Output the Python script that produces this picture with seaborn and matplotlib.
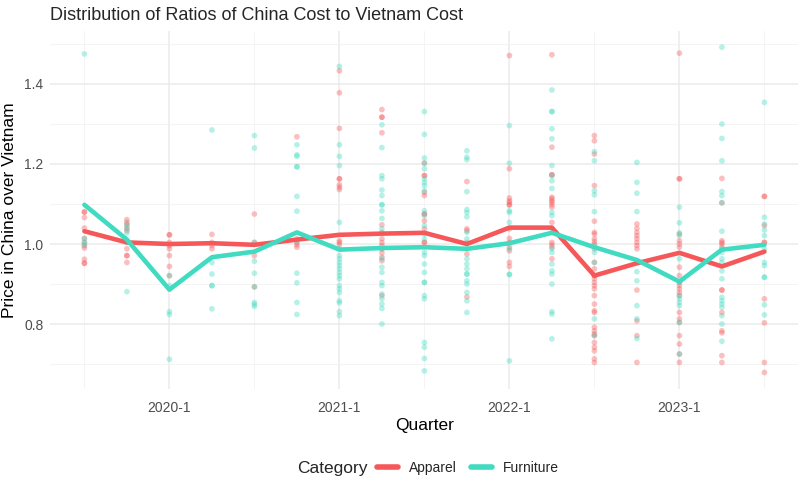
import numpy as np
import pandas as pd
import seaborn as sns
import matplotlib.pyplot as plt
from matplotlib.lines import Line2D

# Quarters on the x axis
quarters = ['2019-3', '2019-4', '2020-1', '2020-2', '2020-3', '2020-4', '2021-1', '2021-2', '2021-3',
            '2021-4', '2022-1', '2022-2', '2022-3', '2022-4', '2023-1', '2023-2', '2023-3']

# Individual ratios per quarter
apparel_pts = [
    [1.080, 1.080, 1.066, 1.040, 1.014, 1.004, 0.996, 0.990, 0.962, 0.952, 0.952],
    [1.061, 1.054, 1.048, 1.040, 1.033, 0.988, 0.971, 0.971, 0.954],
    [1.023, 1.023, 1.004, 0.996, 0.988, 0.971, 0.944, 0.921],
    [1.024, 1.004, 0.996, 0.988],
    [1.075, 1.004, 0.971, 0.893],
    [1.268, 1.013, 1.004, 0.998, 0.992],
    [1.433, 1.378, 1.289, 1.163, 1.163, 1.148, 1.142, 1.136, 1.008, 1.004, 0.998],
    [1.336, 1.317, 1.317, 1.278, 1.048, 1.029, 1.013, 1.004, 0.996, 0.988, 0.978, 0.967, 0.958, 0.871],
    [1.202, 1.171, 1.171, 1.129, 1.121, 1.075, 1.075, 1.058, 1.038, 1.004, 1.004],
    [1.156, 1.038, 1.033, 1.004, 0.975, 0.868],
    [1.471, 1.188, 1.115, 1.108, 1.104, 1.098, 1.098, 1.038, 1.014, 1.004, 0.992, 0.983, 0.954, 0.944],
    [1.473, 1.242, 1.173, 1.173, 1.117, 1.113, 1.108, 1.104, 1.098, 1.092, 1.054, 1.004, 0.998, 0.992, 0.963],
    [1.271, 1.258, 1.225, 1.146, 1.057, 1.029, 1.025, 1.013, 1.006, 1.000, 0.988, 0.954, 0.938, 0.921, 0.921,
     0.913, 0.904, 0.896, 0.888, 0.871, 0.850, 0.833, 0.829, 0.792, 0.783, 0.775, 0.771, 0.754, 0.742, 0.733,
     0.713, 0.704],
    [1.050, 1.039, 1.029, 1.021, 1.013, 1.004, 0.996, 0.988, 0.954, 0.885, 0.808, 0.771, 0.704],
    [1.477, 1.163, 1.163, 1.025, 1.008, 1.000, 0.992, 0.942, 0.921, 0.904, 0.896, 0.888, 0.879, 0.871, 0.829,
     0.813, 0.804, 0.771, 0.750, 0.725, 0.704],
    [1.164, 1.103, 1.008, 1.004, 1.000, 0.992, 0.885, 0.885, 0.829, 0.783, 0.778, 0.721, 0.704],
    [1.119, 1.119, 1.046, 1.004, 1.004, 0.863, 0.803, 0.704, 0.679],
]

furniture_pts = [
    [1.475, 1.014, 1.004, 0.998],
    [1.048, 1.038, 1.028, 1.004, 0.881],
    [0.921, 0.896, 0.831, 0.824, 0.712],
    [1.285, 0.954, 0.925, 0.896, 0.896, 0.838],
    [1.271, 1.240, 1.004, 0.957, 0.927, 0.893, 0.854, 0.849, 0.844],
    [1.248, 1.223, 1.219, 1.193, 1.193, 1.119, 1.082, 1.008, 0.927, 0.903, 0.854, 0.824],
    [1.444, 1.248, 1.219, 1.196, 1.054, 0.988, 0.971, 0.963, 0.954, 0.946, 0.938, 0.929, 0.921, 0.913, 0.896,
     0.888, 0.879, 0.858, 0.853, 0.831, 0.821],
    [1.298, 1.241, 1.171, 1.163, 1.135, 1.121, 1.098, 1.098, 1.083, 1.064, 1.038, 0.988, 0.963, 0.942, 0.929,
     0.904, 0.896, 0.875, 0.863, 0.850, 0.839, 0.800],
    [1.331, 1.274, 1.215, 1.202, 1.188, 1.163, 1.154, 1.146, 1.133, 1.083, 1.071, 1.046, 1.025, 1.013, 0.979,
     0.971, 0.950, 0.929, 0.904, 0.904, 0.871, 0.863, 0.754, 0.742, 0.714, 0.683],
    [1.233, 1.217, 1.211, 1.131, 1.086, 1.079, 1.068, 1.029, 1.013, 0.988, 0.963, 0.950, 0.938, 0.925, 0.925,
     0.908, 0.900, 0.879, 0.858, 0.829],
    [1.296, 1.202, 1.083, 1.079, 1.054, 0.988, 0.924, 0.924, 0.708],
    [1.385, 1.331, 1.331, 1.288, 1.263, 1.196, 1.171, 1.158, 1.139, 1.079, 1.071, 1.038, 0.988, 0.979, 0.950,
     0.933, 0.925, 0.900, 0.831, 0.825, 0.763],
    [1.231, 1.208, 1.133, 1.123, 1.081, 0.996, 0.979, 0.954, 0.813, 0.771],
    [1.204, 1.154, 1.127, 1.081, 0.958, 0.931, 0.908, 0.846, 0.813, 0.764],
    [1.092, 1.053, 1.028, 1.021, 0.963, 0.904, 0.871, 0.863, 0.854, 0.846, 0.804, 0.725],
    [1.492, 1.300, 1.264, 1.208, 1.131, 1.121, 1.103, 1.032, 0.988, 0.979, 0.963, 0.954, 0.933, 0.913, 0.867,
     0.858, 0.850, 0.842, 0.821, 0.800, 0.757],
    [1.354, 1.067, 1.050, 1.035, 1.021, 0.988, 0.954, 0.946, 0.917, 0.917, 0.848, 0.823],
]

# Average line per category
apparel_mean = [1.032, 1.004, 1.000, 1.002, 0.998, 1.011, 1.023, 1.026, 1.028, 1.000, 1.041, 1.041,
                0.921, 0.952, 0.978, 0.944, 0.981]
furniture_mean = [1.098, 1.011, 0.886, 0.967, 0.981, 1.029, 0.986, 0.990, 0.992, 0.988, 1.002, 1.028,
                  0.992, 0.960, 0.906, 0.986, 0.998]

categories = ['Apparel', 'Furniture']
palette = {'Apparel': '#F6585A', 'Furniture': '#40DBC0'}

rows = []
for cat, pts in zip(categories, [apparel_pts, furniture_pts]):
    for i, vals in enumerate(pts):
        for v in vals:
            rows.append((i, v, cat))
points = pd.DataFrame(rows, columns=['pos', 'ratio', 'Category'])

means = pd.DataFrame({
    'pos': list(range(len(quarters))) * 2,
    'ratio': apparel_mean + furniture_mean,
    'Category': ['Apparel'] * len(quarters) + ['Furniture'] * len(quarters),
})

sns.set_theme(style='white')
plt.rcParams['font.family'] = ['Liberation Sans', 'DejaVu Sans']

fig, ax = plt.subplots(figsize=(8, 4.96), dpi=100)
fig.subplots_adjust(left=0.063, right=0.998, top=0.938, bottom=0.216)

sns.scatterplot(data=points, x='pos', y='ratio', hue='Category', hue_order=categories, palette=palette,
                s=17, alpha=0.38, edgecolor='none', legend=False, ax=ax, zorder=2)
sns.lineplot(data=means, x='pos', y='ratio', hue='Category', hue_order=categories, palette=palette,
             linewidth=3.3, legend=False, ax=ax, zorder=3)

major_x = [i for i, q in enumerate(quarters) if q.endswith('-1')]
minor_x = [i for i, q in enumerate(quarters) if q.endswith('-3')]
ax.set_xticks(major_x)
ax.set_xticklabels([quarters[i] for i in major_x])
ax.set_xticks(minor_x, minor=True)
ax.set_yticks([0.8, 1.0, 1.2, 1.4])
ax.set_yticklabels(['0.8', '1.0', '1.2', '1.4'])
ax.set_yticks([0.7, 0.9, 1.1, 1.3, 1.5], minor=True)
ax.set_xlim(-0.8, 16.8)
ax.set_ylim(0.638, 1.533)

ax.grid(which='major', color='#EBEBEB', linewidth=1.1, zorder=0)
ax.grid(which='minor', color='#F2F2F2', linewidth=0.6, zorder=0)
ax.set_axisbelow(True)
for s in ax.spines.values():
    s.set_visible(False)
ax.tick_params(which='both', length=0, labelsize=10, labelcolor='#4D4D4D')
ax.tick_params(axis='x', pad=9)
ax.tick_params(axis='y', pad=5)

ax.set_xlabel('Quarter', fontsize=12.5, color='black', labelpad=2)
ax.set_ylabel('Price in China over Vietnam', fontsize=12.5, color='black', labelpad=5)

fig.text(50 / 800, 1 - 15 / 496, 'Distribution of Ratios of China Cost to Vietnam Cost',
         fontsize=13, ha='left', va='center')

handles = [Line2D([], [], color=palette[c], linewidth=4) for c in categories]
fig.text(297 / 800, 1 - 468 / 496, 'Category', fontsize=12.5, ha='left', va='center')
fig.legend(handles, categories, loc='center', bbox_to_anchor=(468 / 800, 1 - 468 / 496), ncol=2,
           frameon=False, fontsize=10, handlelength=1.5, columnspacing=1.0, handletextpad=0.8)

fig.savefig('out.png', dpi=100)
